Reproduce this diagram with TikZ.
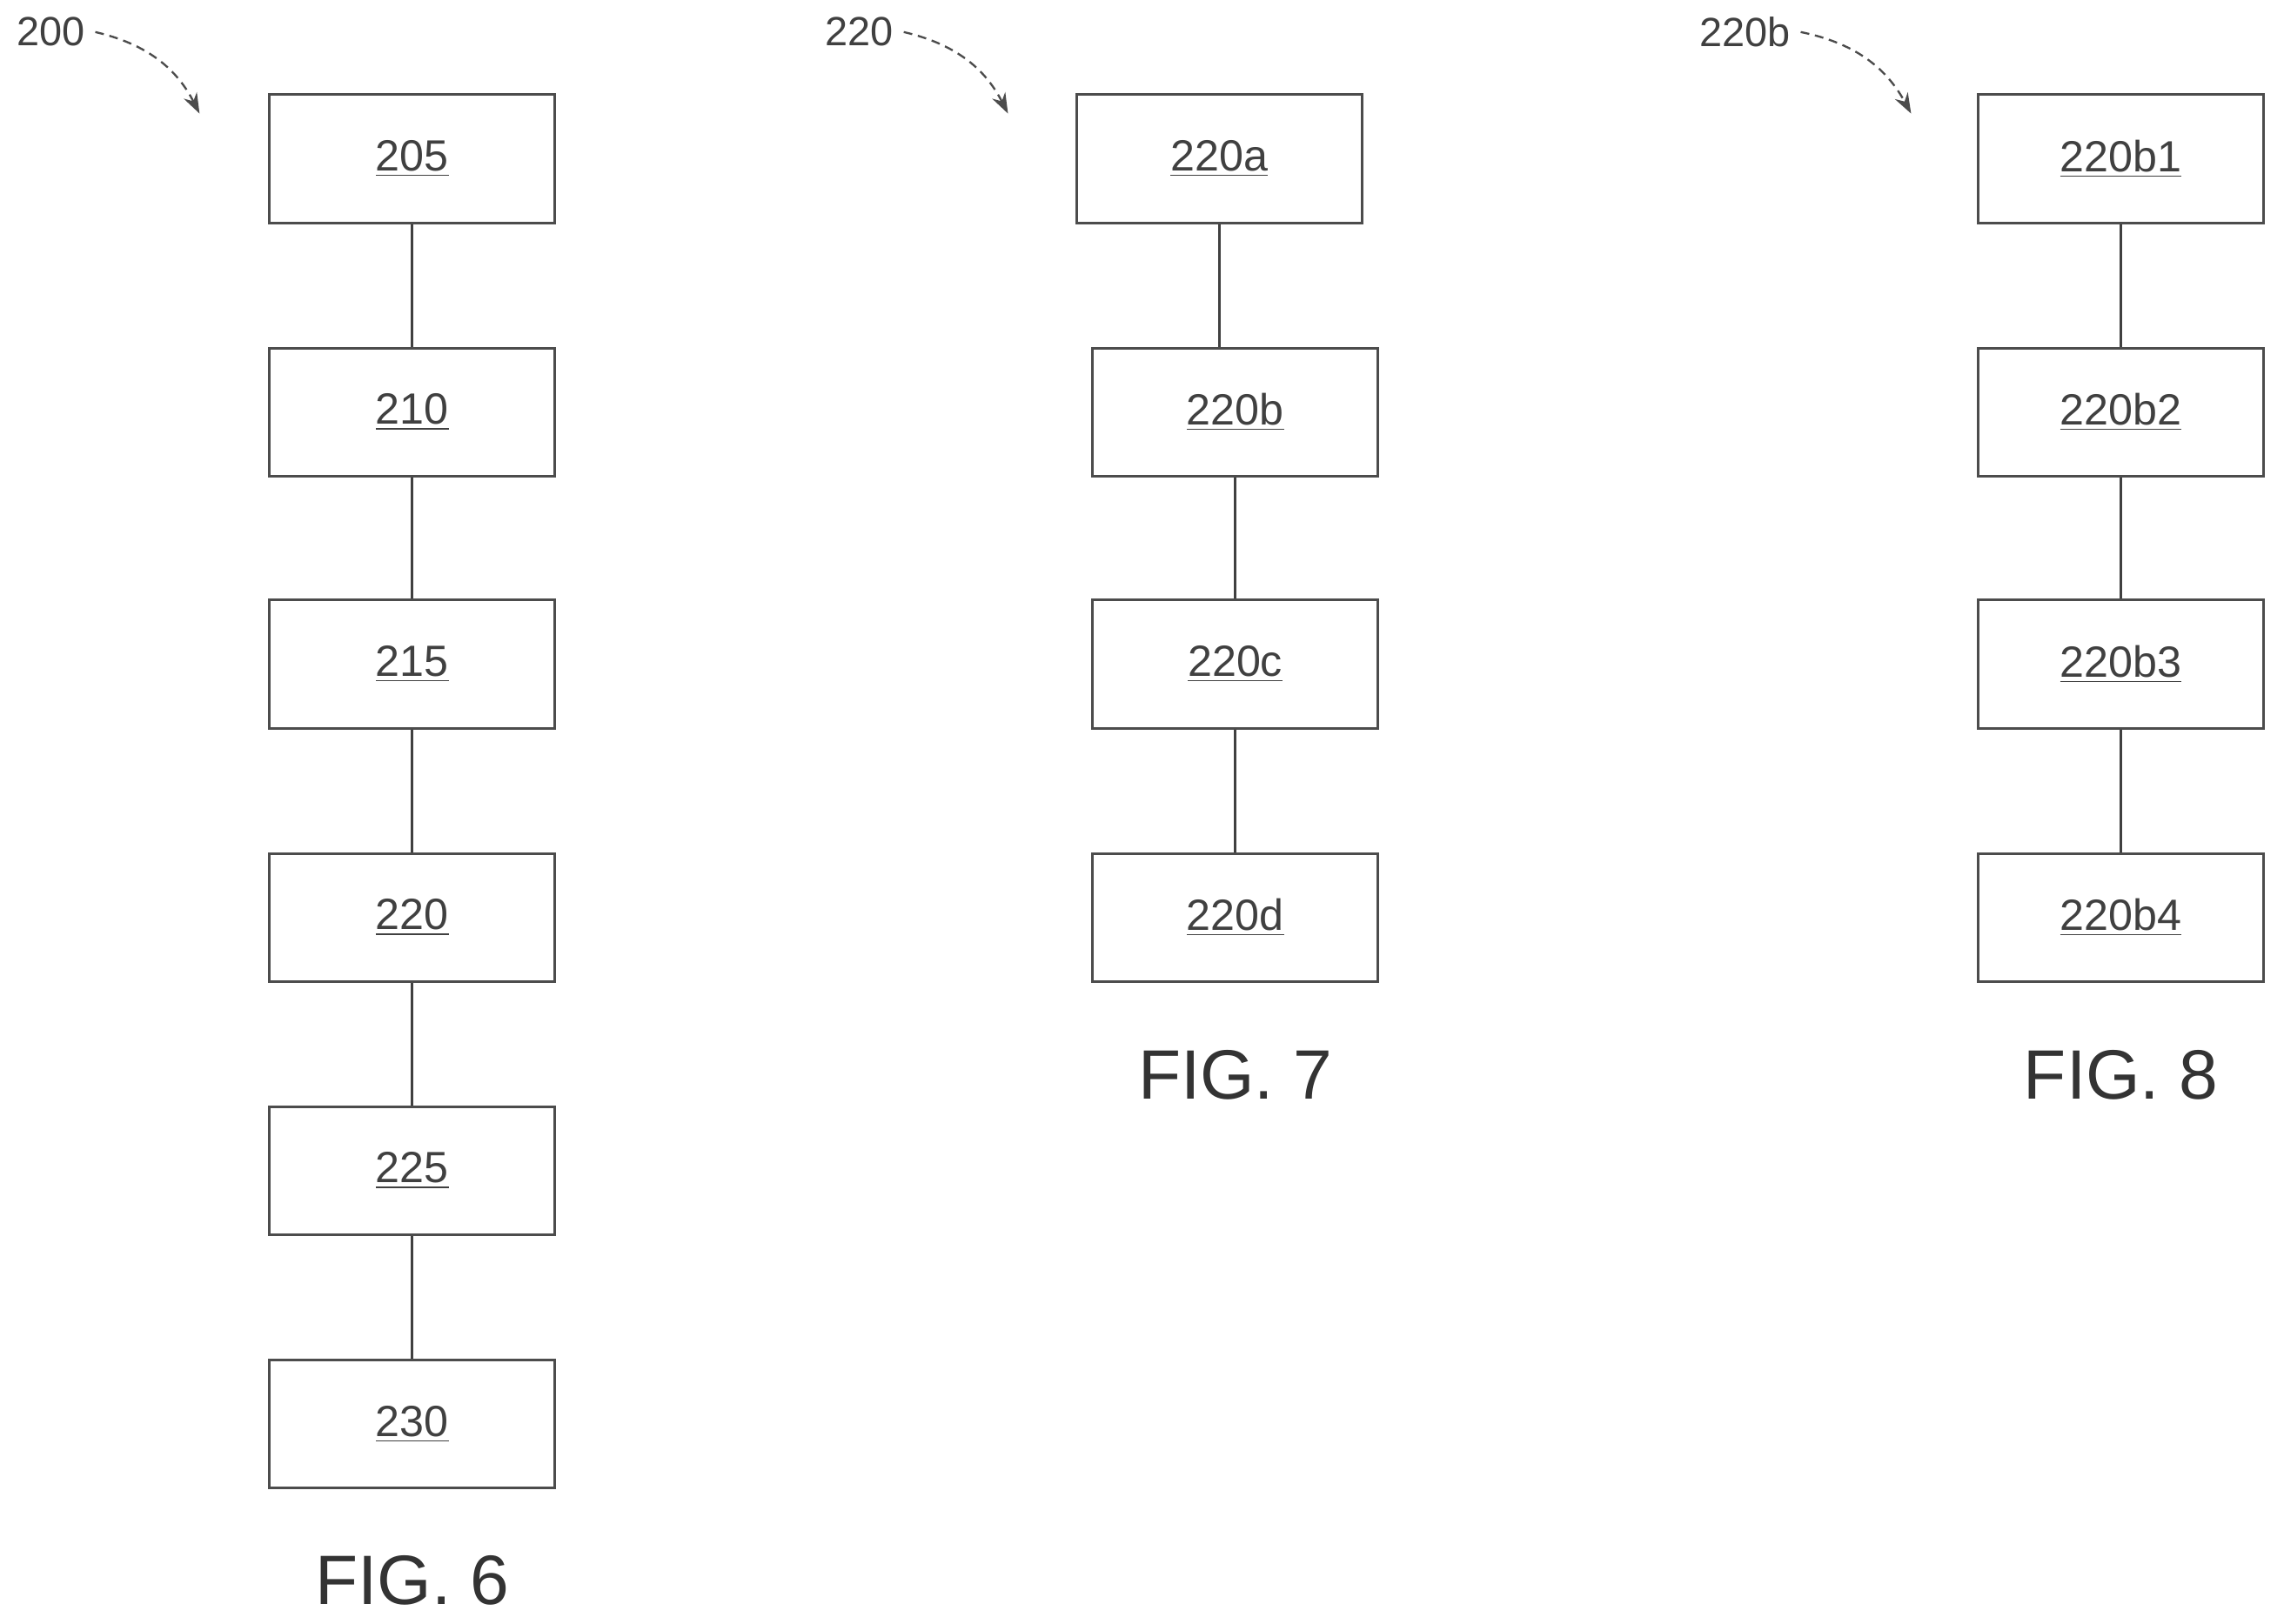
\documentclass[tikz,border=0pt]{standalone}
\usepackage{fontspec}
\setmainfont{Liberation Sans}
\usetikzlibrary{positioning,arrows.meta}
\tikzset{
  blk/.style={draw=black!70, line width=0.9pt, minimum width=98pt, minimum height=44pt, inner sep=0pt, font=\fontsize{15}{15}\selectfont, text=black!75},
  lnk/.style={draw=black!75, line width=0.9pt},
  refarr/.style={draw=black!70, line width=0.7pt, densely dashed, -{Stealth[length=7pt,width=5pt]}},
  figlbl/.style={font=\fontsize{24}{24}\selectfont, text=black!80},
  reflbl/.style={font=\fontsize{14}{14}\selectfont, text=black!75}
}
\begin{document}
\begin{tikzpicture}[x=0.5pt, y=-0.5pt]
	\useasboundingbox (0,0) rectangle (1568,1115);
	
	% FIG. 6
	\node[blk] (b205) at (283,109) {\underline{205}};
	\node[blk] (b210) at (283,283) {\underline{210}};
	\node[blk] (b215) at (283,456) {\underline{215}};
	\node[blk] (b220) at (283,630) {\underline{220}};
	\node[blk] (b225) at (283,804) {\underline{225}};
	\node[blk] (b230) at (283,978) {\underline{230}};
	\foreach \a/\b in {205/210,210/215,215/220,220/225,225/230}
		\draw[lnk] (b\a) -- (b\b);
	\node[figlbl] (fig6) at (283,1085) {FIG. 6};
	\node[reflbl] (r200) at (35,22) {200};
	\coordinate (t200) at (137,78);
	\draw[refarr] (r200.east) to[bend left=25] (t200);
	
	% FIG. 7
	\node[blk] (b220a) at (837,109) {\underline{220a}};
	\node[blk] (b220b) at (848,283) {\underline{220b}};
	\node[blk] (b220c) at (848,456) {\underline{220c}};
	\node[blk] (b220d) at (848,630) {\underline{220d}};
	\draw[lnk] (b220a.south) -- (b220a.south |- b220b.north);
	\draw[lnk] (b220b) -- (b220c);
	\draw[lnk] (b220c) -- (b220d);
	\node[figlbl] (fig7) at (848,738) {FIG. 7};
	\node[reflbl] (r220) at (590,22) {220};
	\coordinate (t220) at (692,78);
	\draw[refarr] (r220.east) to[bend left=25] (t220);
	
	% FIG. 8
	\node[blk] (b220b1) at (1456,109) {\underline{220b1}};
	\node[blk] (b220b2) at (1456,283) {\underline{220b2}};
	\node[blk] (b220b3) at (1456,456) {\underline{220b3}};
	\node[blk] (b220b4) at (1456,630) {\underline{220b4}};
	\foreach \a/\b in {1/2,2/3,3/4}
		\draw[lnk] (b220b\a) -- (b220b\b);
	\node[figlbl] (fig8) at (1456,738) {FIG. 8};
	\node[reflbl] (r220b) at (1198,22) {220b};
	\coordinate (t220b) at (1312,78);
	\draw[refarr] (r220b.east) to[bend left=25] (t220b);
\end{tikzpicture}
\end{document}
